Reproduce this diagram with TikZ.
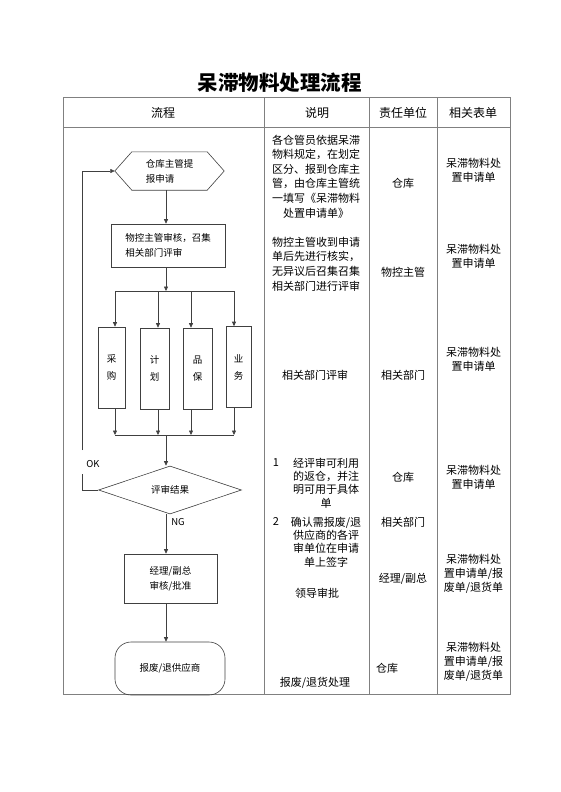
\documentclass[tikz,border=0pt]{standalone}
\usepackage{fontspec}
\setmainfont{Noto Sans CJK SC}
\usetikzlibrary{arrows.meta,shapes.geometric}
\begin{document}
\begin{tikzpicture}[x=1pt,y=1pt,yscale=-1,xscale=1,
  grid/.style={draw={rgb,255:red,128;green,128;blue,128},line width=0.8pt},
  flow/.style={draw={rgb,255:red,64;green,64;blue,64},line width=0.6pt},
  arr/.style={flow,-{Triangle[length=4.5pt,width=4pt]}},
  chart/.style={inner sep=0.75pt,font=\fontsize{9.5}{15}\selectfont,align=left},
  deptbox/.style={flow,chart,align=center,font=\fontsize{9.5}{17}\selectfont,minimum height=81pt},
  cell/.style={inner sep=0.75pt,font=\fontsize{11}{14.6}\selectfont,align=center},
  tight/.style={cell,font=\fontsize{11}{13.4}\selectfont},
  form/.style={cell,font=\fontsize{11}{14}\selectfont}]
\useasboundingbox (0,0) rectangle (560,792);

%Title
\node[inner sep=0.75pt,font=\bfseries\fontsize{20.5}{24}\selectfont] (title) at (279.5,83) {呆滞物料处理流程};

%Shape: Table
\draw[grid] (63,97) rectangle (510,694);
\draw[grid] (63,127) -- (510,127);
\draw[grid] (264,97) -- (264,694);
\draw[grid] (369,97) -- (369,694);
\draw[grid] (437,97) -- (437,694);

% Header
\node[cell,font=\fontsize{12}{14}\selectfont] (hflow) at (163,113) {流程};
\node[cell,font=\fontsize{12}{14}\selectfont] (hnote) at (317,113) {说明};
\node[cell,font=\fontsize{12}{14}\selectfont] (hunit) at (403,113) {责任单位};
\node[cell,font=\fontsize{12}{14}\selectfont] (hform) at (473,113) {相关表单};

%Shape: Hexagon
\node[chart,minimum width=109pt,minimum height=38pt] (req) at (169.5,171) {仓库主管提\\报申请};
\draw[flow] ([xshift=17pt]req.north west) -- ([xshift=-17pt]req.north east) -- (req.east)
  -- ([xshift=-17pt]req.south east) -- ([xshift=17pt]req.south west) -- (req.west) -- cycle;

%Shape: Rectangle
\node[flow,chart,minimum width=114pt,minimum height=43pt] (audit) at (168,245.5) {物控主管审核，召集\\相关部门评审};

% Departments
\node[deptbox,minimum width=27pt] (cg) at (111.5,367.5) {采\\购};
\node[deptbox,minimum width=29pt] (jh) at (154.5,368.5) {计\\划};
\node[deptbox,minimum width=29pt] (pb) at (197.5,368.5) {品\\保};
\node[deptbox,minimum width=25pt] (yw) at (238.5,367) {业\\务};

%Shape: Diamond
\node[flow,chart,diamond,inner sep=0pt,minimum width=143pt,minimum height=48pt] (dec) at (170,490) {评审结果};

%Shape: Rectangle
\node[flow,chart,minimum width=93pt,minimum height=49pt] (mgr) at (170.5,578.5) {经理/副总\\审核/批准};

%Shape: Terminal
\node[flow,chart,rounded corners=16pt,minimum width=110pt,minimum height=53pt] (term) at (170,668.5) {报废/退供应商};

% Coordinates
\coordinate (spine) at (166,0);
\coordinate (t1) at (115,291);
\coordinate (t2) at (158,291);
\coordinate (t3) at (191,291);
\coordinate (t4) at (234,291);
\coordinate (b1) at (115,435);
\coordinate (b2) at (158,435);
\coordinate (b3) at (191,435);
\coordinate (b4) at (234,435);
\coordinate (ok1) at (82,474);
\coordinate (ok2) at (82,450);

%Straight Lines
\draw[arr] (req.south -| spine) -- (audit.north -| spine);
\draw[arr] (audit.south -| spine) -- (t1 -| spine);
\draw[flow] (t1) -- (t4);
\draw[arr] (t1) -- (t1 |- cg.north);
\draw[arr] (t2) -- (t2 |- jh.north);
\draw[arr] (t3) -- (t3 |- pb.north);
\draw[arr] (t4) -- (t4 |- yw.north);
\draw[arr] (b1 |- cg.south) -- (b1);
\draw[arr] (b2 |- jh.south) -- (b2);
\draw[arr] (b3 |- pb.south) -- (b3);
\draw[arr] (b4 |- yw.south) -- (b4);
\draw[flow] (b1) -- (b4);
\draw[arr] (b1 -| spine) -- (dec.north -| spine);
\draw[arr] (dec.south -| spine) -- (mgr.north -| spine);
\draw[arr] (mgr.south -| spine) -- (term.north -| spine);
\draw[flow] (dec.west) -| (ok1);
\draw[arr] (ok2) |- (req.west);

% Text Node
\node[chart] (ok) at (93,464) {OK};
\node[chart] (ng) at (178,522) {NG};

% Text Node: notes
\node[cell] (n1) at (316,176.5) {各仓管员依据呆滞\\物料规定，在划定\\区分、报到仓库主\\管，由仓库主管统\\一填写《呆滞物料\\处置申请单》};
\node[cell] (n2) at (316,264) {物控主管收到申请\\单后先进行核实，\\无异议后召集召集\\相关部门进行评审};
\node[cell] (n3) at (315,375) {相关部门评审};
\node[cell] (i1) at (276,463) {1};
\node[tight] (n4) at (326,483) {经评审可利用\\的返仓，并注\\明可用于具体\\单};
\node[cell] (i2) at (276,522) {2};
\node[tight] (n5) at (326,542) {确认需报废/退\\供应商的各评\\审单位在申请\\单上签字};
\node[cell] (n6) at (317,593) {领导审批};
\node[cell] (n7) at (315,683) {报废/退货处理};

% Text Node: units
\node[cell] (u1) at (403,183) {仓库};
\node[cell] (u2) at (403,272) {物控主管};
\node[cell] (u3) at (403,375) {相关部门};
\node[cell] (u4) at (403,477) {仓库};
\node[cell] (u5) at (403,522) {相关部门};
\node[cell] (u6) at (403,579) {经理/副总};
\node[cell] (u7) at (387,668) {仓库};

% Text Node: forms
\node[form] (f1) at (473.5,170) {呆滞物料处\\置申请单};
\node[form] (f2) at (473.5,256.5) {呆滞物料处\\置申请单};
\node[form] (f3) at (473.5,359.5) {呆滞物料处\\置申请单};
\node[form] (f4) at (473.5,477.5) {呆滞物料处\\置申请单};
\node[form] (f5) at (473.5,574) {呆滞物料处\\置申请单/报\\废单/退货单};
\node[form] (f6) at (473.5,661.5) {呆滞物料处\\置申请单/报\\废单/退货单};

\end{tikzpicture}
\end{document}
